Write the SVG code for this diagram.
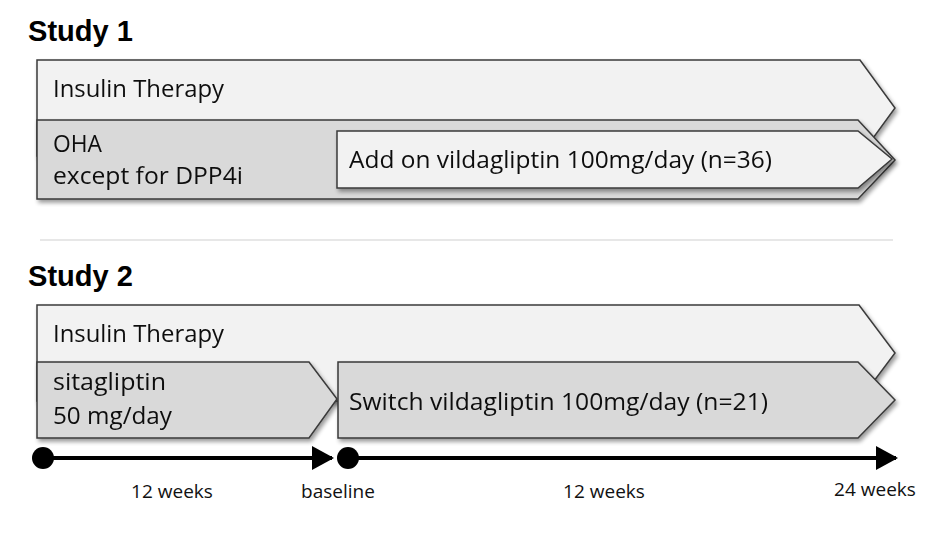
<svg xmlns="http://www.w3.org/2000/svg" width="945" height="536" viewBox="0 0 945 536">
<defs>
<style>
.title{font-family:"Liberation Sans",Arial,sans-serif;font-weight:bold;font-size:29px;fill:#000}
.lbl{font-family:"Open Sans","Noto Sans",sans-serif;font-size:23px;fill:#111}
.ax{font-family:"Open Sans","Noto Sans",sans-serif;font-size:19px;fill:#111;text-anchor:middle}
.light{fill:#f2f2f2;stroke:#3a3a3a;stroke-width:1.5}
.dark{fill:#d9d9d9;stroke:#3a3a3a;stroke-width:1.5}
.tl{stroke:#000;stroke-width:4;fill:none}
</style>
<filter id="sh" x="-5%" y="-20%" width="110%" height="150%">
<feGaussianBlur in="SourceAlpha" stdDeviation="2"/>
<feOffset dx="2" dy="3" result="b"/>
<feComponentTransfer><feFuncA type="linear" slope="0.4"/></feComponentTransfer>
<feMerge><feMergeNode/><feMergeNode in="SourceGraphic"/></feMerge>
</filter>
<marker id="arr" markerWidth="6" markerHeight="6" refX="5" refY="3" orient="auto" markerUnits="strokeWidth">
<path d="M0,0 L5.5,3 L0,6 Z" fill="#000"/>
</marker>
</defs>
<rect width="945" height="536" fill="#fff"/>

<text class="title" x="28" y="41" textLength="105" lengthAdjust="spacingAndGlyphs">Study 1</text>
<g id="s1-insulin" filter="url(#sh)">
<polygon class="light" points="37,60 860,60 895,108 860,156 37,156"/>
<text class="lbl" x="53" y="97" textLength="171" lengthAdjust="spacingAndGlyphs">Insulin Therapy</text>
</g>
<g id="s1-oha" filter="url(#sh)">
<polygon class="dark" points="37,120 858,120 895,160 858,199 37,199"/>
<text class="lbl" x="53" y="152" textLength="49" lengthAdjust="spacingAndGlyphs">OHA</text>
<text class="lbl" x="53" y="184" textLength="190" lengthAdjust="spacingAndGlyphs">except for DPP4i</text>
</g>
<g id="s1-addon" filter="url(#sh)">
<polygon class="light" points="337,131 858,131 892,159 858,188 337,188"/>
<text class="lbl" x="349" y="168" textLength="423" lengthAdjust="spacingAndGlyphs">Add on vildagliptin 100mg/day (n=36)</text>
</g>

<line x1="40" y1="240" x2="893" y2="240" stroke="#cfcfcf" stroke-width="1"/>

<text class="title" x="28" y="286" textLength="105" lengthAdjust="spacingAndGlyphs">Study 2</text>
<g id="s2-insulin" filter="url(#sh)">
<polygon class="light" points="37,305 859,305 895,353 859,401 37,401"/>
<text class="lbl" x="53" y="342" textLength="171" lengthAdjust="spacingAndGlyphs">Insulin Therapy</text>
</g>
<g id="s2-sita" filter="url(#sh)">
<polygon class="dark" points="37,362 309,362 337,399 309,438 37,438"/>
<text class="lbl" x="53" y="390" textLength="113" lengthAdjust="spacingAndGlyphs">sitagliptin</text>
<text class="lbl" x="53" y="424" textLength="119" lengthAdjust="spacingAndGlyphs">50 mg/day</text>
</g>
<g id="s2-switch" filter="url(#sh)">
<polygon class="dark" points="338,362 858,362 895,400 858,438 338,438"/>
<text class="lbl" x="349" y="410" textLength="419" lengthAdjust="spacingAndGlyphs">Switch vildagliptin 100mg/day (n=21)</text>
</g>

<g id="connectors">
<line class="tl" x1="43" y1="458" x2="332" y2="458" marker-end="url(#arr)"/>
<line class="tl" x1="348" y1="458" x2="896" y2="458" marker-end="url(#arr)"/>
<circle cx="43" cy="458" r="11" fill="#000"/>
<circle cx="348" cy="458" r="11" fill="#000"/>
</g>

<g id="axis-labels">
<text class="ax" x="172" y="498">12 weeks</text>
<text class="ax" x="338" y="498">baseline</text>
<text class="ax" x="604" y="498">12 weeks</text>
<text class="ax" x="875" y="496">24 weeks</text>
</g>
</svg>
